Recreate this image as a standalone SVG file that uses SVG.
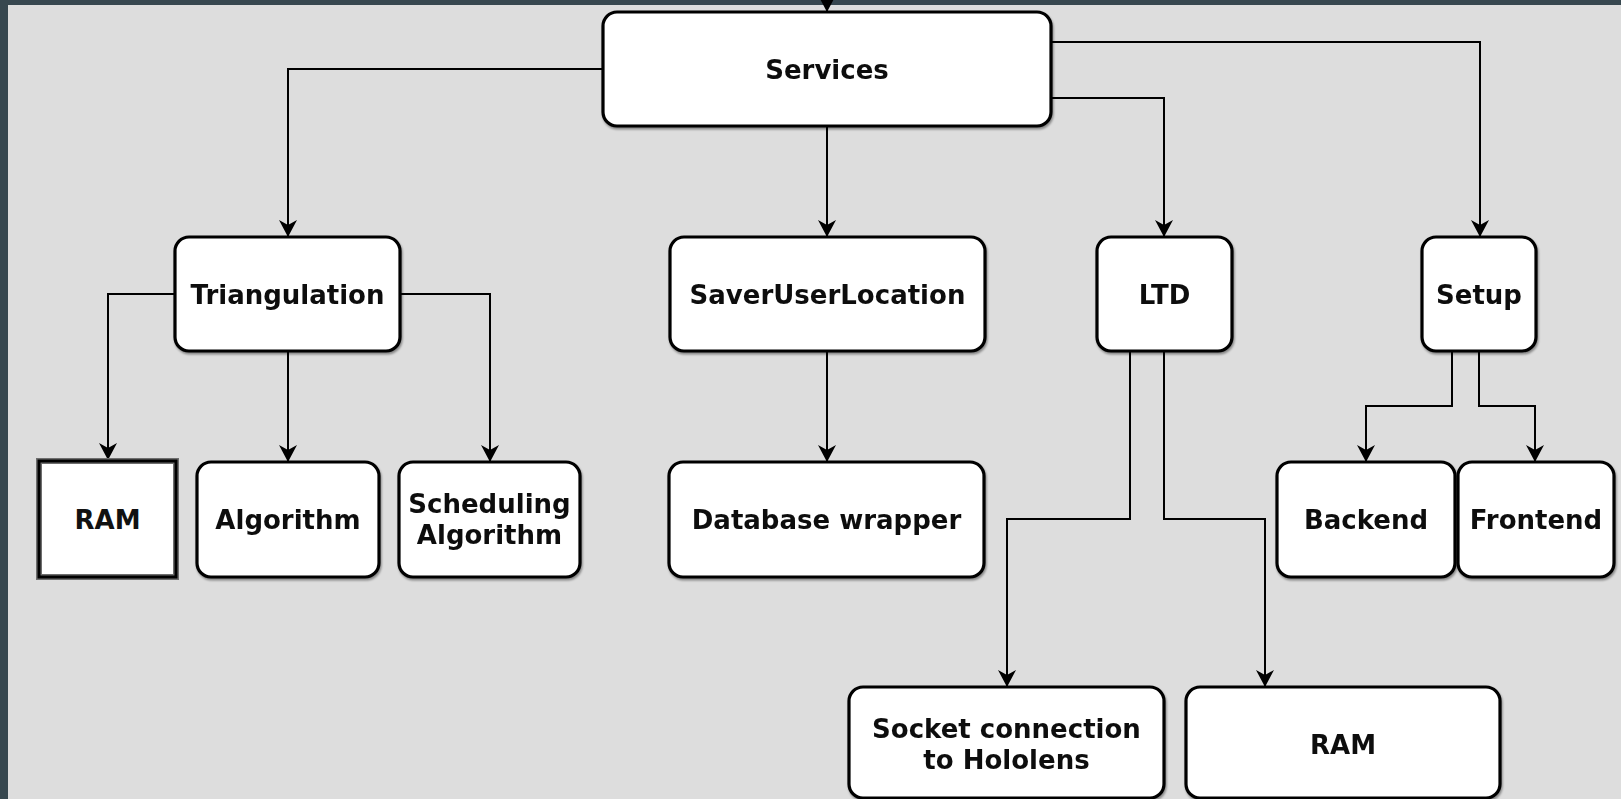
<svg xmlns="http://www.w3.org/2000/svg" width="1621" height="799" viewBox="0 0 1621 799">
  <style>
    .box { fill: #ffffff; stroke: #000000; stroke-width: 3.2; }
    .sq-outer { fill: #ffffff; stroke: #6e6e6e; stroke-width: 6; }
    .sq-inner { fill: none; stroke: #000000; stroke-width: 3; }
    .lbl { font-family: "DejaVu Sans", Verdana, sans-serif; font-weight: bold; font-size: 26px; fill: #111111; text-anchor: middle; }
    .edge { fill: none; stroke: #000000; stroke-width: 2; marker-end: url(#arrow); }
  </style>
  <defs>
    <marker id="arrow" markerUnits="userSpaceOnUse" markerWidth="20" markerHeight="22" viewBox="-18 -11 20 22" refX="0" refY="0" orient="auto">
      <path d="M-17,-9 L0,0 L-17,9 L-12,0 z" fill="#000000"/>
    </marker>
    <filter id="soft" x="-5%" y="-5%" width="110%" height="115%">
      <feDropShadow dx="1" dy="2" stdDeviation="1.2" flood-color="#000000" flood-opacity="0.4"/>
    </filter>
  </defs>

  <!-- canvas -->
  <rect x="0" y="0" width="1621" height="799" fill="#37474f"/>
  <rect x="8" y="5" width="1613" height="794" fill="#dddddd"/>

  <!-- connectors -->
  <g id="connectors">
    <path class="edge" d="M827,-30 L827,12"/>
    <path class="edge" d="M603,69 L288,69 L288,237"/>
    <path class="edge" d="M827,126 L827,237"/>
    <path class="edge" d="M1051,98 L1164,98 L1164,237"/>
    <path class="edge" d="M1051,42 L1480,42 L1480,237"/>
    <path class="edge" d="M175,294 L108,294 L108,460"/>
    <path class="edge" d="M288,351 L288,462"/>
    <path class="edge" d="M400,294 L490,294 L490,462"/>
    <path class="edge" d="M827,351 L827,462"/>
    <path class="edge" d="M1130,351 L1130,519 L1007,519 L1007,687"/>
    <path class="edge" d="M1164,351 L1164,519 L1265,519 L1265,687"/>
    <path class="edge" d="M1452,351 L1452,406 L1366,406 L1366,462"/>
    <path class="edge" d="M1479,351 L1479,406 L1535,406 L1535,462"/>
  </g>

  <!-- nodes -->
  <g id="services" filter="url(#soft)">
    <rect class="box" x="603" y="12" width="448" height="114" rx="14"/>
    <text class="lbl" x="827" y="79">Services</text>
  </g>
  <g id="triangulation" filter="url(#soft)">
    <rect class="box" x="175" y="237" width="225" height="114" rx="14"/>
    <text class="lbl" x="287.5" y="304">Triangulation</text>
  </g>
  <g id="saver-user-location" filter="url(#soft)">
    <rect class="box" x="670" y="237" width="315" height="114" rx="14"/>
    <text class="lbl" x="827.5" y="304">SaverUserLocation</text>
  </g>
  <g id="ltd" filter="url(#soft)">
    <rect class="box" x="1097" y="237" width="135" height="114" rx="14"/>
    <text class="lbl" x="1164.5" y="304">LTD</text>
  </g>
  <g id="setup" filter="url(#soft)">
    <rect class="box" x="1422" y="237" width="114" height="114" rx="14"/>
    <text class="lbl" x="1479" y="304">Setup</text>
  </g>
  <g id="ram-triangulation">
    <rect class="sq-outer" x="39" y="461" width="137" height="116"/>
    <rect class="sq-inner" x="39" y="461" width="137" height="116"/>
    <text class="lbl" x="107.5" y="529">RAM</text>
  </g>
  <g id="algorithm" filter="url(#soft)">
    <rect class="box" x="197" y="462" width="182" height="115" rx="14"/>
    <text class="lbl" x="288" y="529">Algorithm</text>
  </g>
  <g id="scheduling-algorithm" filter="url(#soft)">
    <rect class="box" x="399" y="462" width="181" height="115" rx="14"/>
    <text class="lbl" x="489.5" y="513">Scheduling</text>
    <text class="lbl" x="489.5" y="544">Algorithm</text>
  </g>
  <g id="database-wrapper" filter="url(#soft)">
    <rect class="box" x="669" y="462" width="315" height="115" rx="14"/>
    <text class="lbl" x="826.5" y="529">Database wrapper</text>
  </g>
  <g id="backend" filter="url(#soft)">
    <rect class="box" x="1277" y="462" width="178" height="115" rx="14"/>
    <text class="lbl" x="1366" y="529">Backend</text>
  </g>
  <g id="frontend" filter="url(#soft)">
    <rect class="box" x="1458" y="462" width="156" height="115" rx="14"/>
    <text class="lbl" x="1536" y="529">Frontend</text>
  </g>
  <g id="socket-connection" filter="url(#soft)">
    <rect class="box" x="849" y="687" width="315" height="111" rx="14"/>
    <text class="lbl" x="1006.5" y="738">Socket connection</text>
    <text class="lbl" x="1006.5" y="769">to Hololens</text>
  </g>
  <g id="ram-ltd" filter="url(#soft)">
    <rect class="box" x="1186" y="687" width="314" height="111" rx="14"/>
    <text class="lbl" x="1343" y="754">RAM</text>
  </g>
</svg>
